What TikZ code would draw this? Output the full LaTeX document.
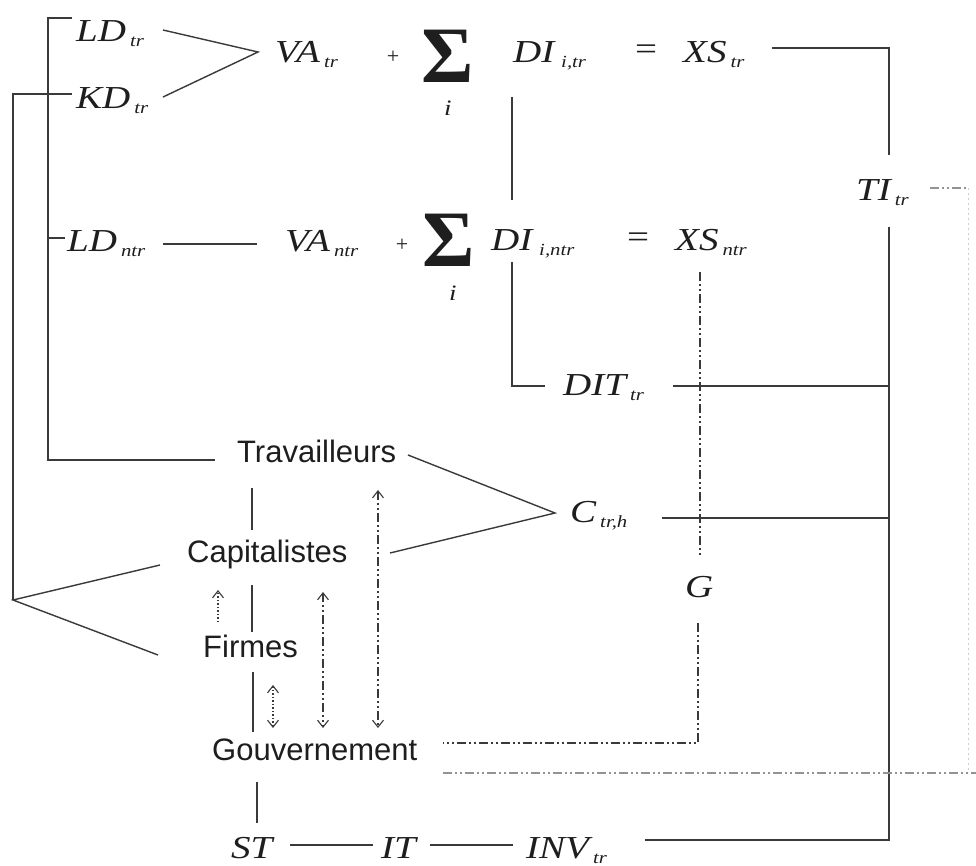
\documentclass[tikz,border=0pt]{standalone}
\usepackage{fontspec}
\setmainfont{Liberation Serif}
\newfontfamily\eqf{Liberation Serif}[FakeStretch=1.22]
\newfontfamily\sansf{Liberation Sans}
\usetikzlibrary{arrows.meta}
\definecolor{txt}{HTML}{1E1E1E}
\definecolor{ln}{HTML}{3A3A3A}
\newcommand\ml[2]{{\eqf\itshape\fontsize{32}{32}\selectfont #1}\kern4pt\raisebox{-5pt}{\eqf\itshape\fontsize{17}{17}\selectfont #2}}
\newcommand\mlo[1]{{\eqf\itshape\fontsize{32}{32}\selectfont #1}}
\tikzset{
  lab/.style={inner sep=0pt, anchor=base west, text=txt},
  sans/.style={inner sep=0pt, anchor=base west, text=txt, font=\sansf\fontsize{31}{31}\selectfont},
  sym/.style={inner sep=0pt, text=txt},
  conn/.style={draw=ln, line width=1.4pt},
  ddot/.style={draw=ln, line width=1.2pt, dash pattern=on 9pt off 3pt on 2pt off 3pt on 2pt off 3pt},
  ddotl/.style={draw=ln!55, line width=1.2pt, dash pattern=on 9pt off 3pt on 2pt off 3pt on 2pt off 3pt},
  faint/.style={draw=ln!25, line width=1pt, dash pattern=on 2pt off 3pt},
  dotarr/.style={draw=ln, line width=1.1pt, dash pattern=on 1.5pt off 2pt},
  tip/.style={arrows={-Straight Barb[length=7pt,width=11pt,line width=1.1pt]}},
  dtip/.style={arrows={Straight Barb[length=7pt,width=11pt,line width=1.1pt]-Straight Barb[length=7pt,width=11pt,line width=1.1pt]}},
}
\begin{document}
\begin{tikzpicture}[x=1pt,y=-1pt]
\useasboundingbox[fill=white] (0,0) rectangle (976,865);

% ---- row 1
\node[lab] (LDtr) at (76,41) {\ml{LD}{tr}};
\node[lab] (KDtr) at (76,108) {\ml{KD}{tr}};
\node[lab] (VAtr) at (275,62) {\ml{VA}{tr}};
\node[sym] (plus1) at (393,57) {\fontsize{22}{22}\selectfont +};
\node[sym] (sig1) at (448,56) {\fontsize{80}{80}\selectfont\bfseries Σ};
\node[lab] (i1) at (444,115) {\mlo{\fontsize{22}{22}\selectfont i}};
\node[lab] (DItr) at (513,62) {\ml{DI}{\,i,tr}};
\node[sym] (eq1) at (646,52) {\eqf\fontsize{32}{32}\selectfont =};
\node[lab] (XStr) at (683,62) {\ml{XS}{tr}};

% ---- row 2
\node[lab] (LDntr) at (67,251) {\ml{LD}{ntr}};
\node[lab] (VAntr) at (285,251) {\ml{VA}{ntr}};
\node[sym] (plus2) at (402,245) {\fontsize{22}{22}\selectfont +};
\node[sym] (sig2) at (449,240) {\fontsize{80}{80}\selectfont\bfseries Σ};
\node[lab] (i2) at (449,300) {\mlo{\fontsize{22}{22}\selectfont i}};
\node[lab] (DIntr) at (491,250) {\ml{DI}{\,i,ntr}};
\node[sym] (eq2) at (638,240) {\eqf\fontsize{32}{32}\selectfont =};
\node[lab] (XSntr) at (675,250) {\ml{XS}{ntr}};

% ---- others
\node[lab] (TItr) at (856,200) {\ml{TI}{tr}};
\node[lab] (DITtr) at (563,395) {\ml{DIT}{tr}};
\node[lab] (Ctrh) at (570,522) {\ml{C}{tr,h}};
\node[lab] (G) at (685,597) {\mlo{G}};
\node[lab] (ST) at (231,858) {\mlo{ST}};
\node[lab] (IT) at (381,858) {\mlo{IT}};
\node[lab] (INVtr) at (526,858) {\ml{INV}{tr}};

\node[sans] (Trav) at (237,462) {Travailleurs};
\node[sans] (Cap) at (187,562) {Capitalistes};
\node[sans] (Firm) at (203,657) {Firmes};
\node[sans] (Gouv) at (212,760) {Gouvernement};

% ---- bend points
\coordinate (bA) at (48,18);
\coordinate (bB) at (48,460);
\coordinate (oA) at (13,94);
\coordinate (oB) at (13,600);
\coordinate (vaApex) at (258,52);
\coordinate (cApex) at (555,513);
\coordinate (rTop) at (889,48);
\coordinate (rBot) at (889,840);
\coordinate (diBend) at (512,386);
\coordinate (gBend) at (698,743);
\coordinate (fEnd) at (968,188);
\coordinate (fBot) at (968,773);

% left brackets
\draw[conn] (72,18) -- (bA) -- (bB) -- (215,460);
\draw[conn] (72,94) -- (oA) -- (oB);
\draw[conn] (48,238) -- (65,238);
\draw[conn] (160,565) -- (oB) -- (158,655);

% to VA
\draw[conn] (163,30) -- (vaApex) -- (163,97);
\draw[conn] (163,244) -- (257,244);

% DI bracket
\draw[conn] (512,97) -- (512,200);
\draw[conn] (512,262) -- (diBend) -- (545,386);

% right frame
\draw[conn] (772,48) -- (rTop) -- (889,155);
\draw[conn] (889,227) -- (rBot) -- (645,840);
\draw[conn] (673,386) -- (889,386);
\draw[conn] (662,518) -- (889,518);

% C fork
\draw[conn] (408,455) -- (cApex) -- (390,553);

% vertical chain
\draw[conn] (252,488) -- (252,530);
\draw[conn] (252,585) -- (252,632);
\draw[conn] (253,672) -- (253,732);
\draw[conn] (257,782) -- (257,823);
\draw[conn] (290,845) -- (373,845);
\draw[conn] (430,845) -- (513,845);

% dash-dot lines
\draw[ddot] (700,272) -- (700,557);
\draw[ddot] (698,623) -- (gBend) -- (443,743);
\draw[ddotl] (443,773) -- (976,773);
\draw[ddotl] (930,188) -- (fEnd);
\draw[faint] (fEnd) -- (fBot);

% arrows
\draw[dotarr, tip] (218,622) -- (218,590);
\draw[dotarr, dtip] (273,685) -- (273,728);
\draw[ddot, line width=1.1pt, dtip] (323,592) -- (323,728);
\draw[ddot, line width=1.1pt, dtip] (378,490) -- (378,728);
\end{tikzpicture}
\end{document}
